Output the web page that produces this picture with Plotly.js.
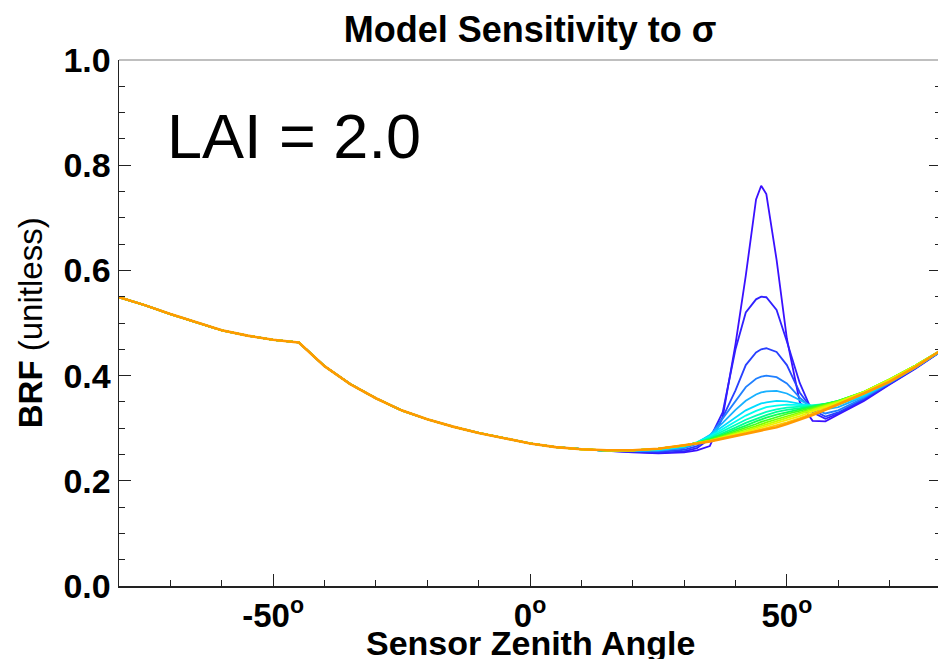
<!DOCTYPE html>
<html>
<head>
<meta charset="utf-8">
<script src="https://cdn.plot.ly/plotly-3.0.1.min.js"></script>
<style>
html,body{margin:0;padding:0;overflow:hidden;background:#fff;}
#chart{width:944px;height:659px;}
</style>
</head>
<body>
<div id="chart"></div>
<script>
// Shared left part (all curves coincide here)
const xLeft = [-80,-75,-70,-65,-60,-55,-50,-46,-45,-44,-40,-35,-30,-25,-20,-15,-10,-5,0,5,10];
const yLeft = [0.549,0.534,0.517,0.501,0.486,0.476,0.468,0.464,0.463,0.454,0.418,0.384,0.357,0.334,0.317,0.303,0.291,0.281,0.271,0.264,0.260];

// Hotspot region, per sigma curve
const xRight = [15,20,25,30,32.5,35,37.5,40,42,44,45,46,48,50,52.5,55,57.5,60,65,70,75,80];
const s01 = [0.257,0.254,0.252,0.254,0.258,0.266,0.321,0.460,0.590,0.735,0.761,0.745,0.620,0.470,0.350,0.314,0.313,0.326,0.352,0.383,0.413,0.446];
const s02 = [0.257,0.255,0.253,0.256,0.262,0.280,0.330,0.450,0.520,0.545,0.550,0.549,0.525,0.465,0.386,0.330,0.318,0.328,0.354,0.384,0.414,0.446];
const s03 = [0.257,0.256,0.255,0.259,0.266,0.283,0.320,0.372,0.420,0.444,0.450,0.452,0.445,0.420,0.368,0.335,0.322,0.330,0.356,0.385,0.415,0.447];
const s04 = [0.257,0.257,0.257,0.262,0.270,0.285,0.318,0.352,0.378,0.394,0.398,0.400,0.397,0.385,0.358,0.337,0.328,0.334,0.358,0.386,0.415,0.447];
const s05 = [0.257,0.257,0.258,0.264,0.272,0.287,0.310,0.335,0.352,0.364,0.368,0.370,0.371,0.366,0.353,0.341,0.336,0.340,0.360,0.387,0.415,0.447];
const s06 = [0.257,0.257,0.259,0.265,0.273,0.286,0.303,0.321,0.334,0.343,0.347,0.349,0.352,0.351,0.346,0.342,0.341,0.345,0.362,0.388,0.416,0.447];
const s07 = [0.257,0.258,0.260,0.266,0.273,0.284,0.298,0.313,0.324,0.333,0.337,0.340,0.343,0.345,0.344,0.343,0.344,0.349,0.365,0.390,0.417,0.447];
const s08 = [0.257,0.258,0.261,0.266,0.272,0.282,0.294,0.306,0.316,0.324,0.328,0.331,0.336,0.339,0.341,0.343,0.346,0.351,0.367,0.391,0.418,0.447];
const s09 = [0.257,0.258,0.261,0.267,0.272,0.280,0.290,0.301,0.310,0.318,0.322,0.325,0.331,0.335,0.338,0.342,0.346,0.352,0.368,0.392,0.418,0.447];
const s10 = [0.258,0.258,0.261,0.267,0.272,0.279,0.288,0.297,0.305,0.313,0.317,0.320,0.326,0.331,0.336,0.341,0.346,0.352,0.369,0.393,0.419,0.448];
const s11 = [0.258,0.258,0.261,0.267,0.272,0.278,0.286,0.294,0.301,0.308,0.312,0.315,0.321,0.327,0.333,0.339,0.345,0.352,0.369,0.393,0.419,0.448];
const s12 = [0.258,0.258,0.261,0.267,0.272,0.277,0.284,0.291,0.298,0.304,0.308,0.311,0.317,0.323,0.330,0.337,0.344,0.351,0.369,0.393,0.419,0.448];
const s13 = [0.258,0.258,0.261,0.267,0.272,0.276,0.283,0.289,0.295,0.301,0.304,0.307,0.313,0.319,0.327,0.335,0.342,0.350,0.369,0.393,0.419,0.448];
const s14 = [0.258,0.258,0.261,0.267,0.271,0.276,0.282,0.287,0.292,0.298,0.301,0.304,0.309,0.315,0.323,0.332,0.340,0.348,0.368,0.392,0.418,0.448];
const s15 = [0.258,0.258,0.261,0.267,0.271,0.275,0.281,0.286,0.290,0.295,0.298,0.300,0.305,0.311,0.319,0.328,0.337,0.346,0.367,0.390,0.417,0.448];
const s16 = [0.258,0.258,0.261,0.267,0.271,0.275,0.280,0.285,0.289,0.293,0.295,0.297,0.302,0.308,0.316,0.325,0.335,0.345,0.366,0.388,0.416,0.448];

const series = [s01,s02,s03,s04,s05,s06,s07,s08,s09,s10,s11,s12,s13,s14,s15,s16];
const colors = ['#3a10ff','#3020ff','#2840ff','#2080ff','#18b0ff','#00dcff','#00fff0','#00ffc0','#00ff90','#10ff58','#40ff20','#80ff00','#c0ff00','#f0f000','#ffc800','#ff9a00'];

const xTickVals = [-50,0,50];
const xTickText = ['-50<sup>o</sup>','0<sup>o</sup>','50<sup>o</sup>'];

const traces = series.map((s,i)=>({
  x: xLeft.concat(xRight),
  y: yLeft.concat(s),
  type: 'scatter',
  mode: 'lines',
  line: {color: colors[i], width: i===series.length-1 ? 2.6 : 1.8},
  showlegend: false,
  hoverinfo: 'skip'
}));

const font = 'Liberation Sans, Arial, Helvetica, sans-serif';

const layout = {
  width: 944, height: 659,
  margin: {l:119, r:3, t:60, b:73},
  paper_bgcolor: '#fff', plot_bgcolor: '#fff',
  title: {text: '<b>Model Sensitivity to σ</b>', font:{family:font, size:36, color:'#000'}, x:0.5, xref:'paper', xanchor:'center', y:0.955, yref:'container', yanchor:'middle'},
  xaxis: {
    range: [-80,80], showgrid:false, zeroline:false,
    showline:true, linecolor:'#222', linewidth:1.5, mirror:false,
    ticks:'inside', ticklen:12, tickwidth:1, tickcolor:'#222',
    tickvals: xTickVals, ticktext: xTickText,
    tickfont:{family:font, size:33, color:'#000', weight:'bold'},
    minor:{dtick:10, ticks:'inside', ticklen:6, tickcolor:'#222', showgrid:false},
    title:{text:''}
  },
  yaxis: {
    range: [0,1], showgrid:false, zeroline:false,
    showline:true, linecolor:'#222', linewidth:1.5, mirror:'ticks',
    ticks:'inside', ticklen:12, tickwidth:1, tickcolor:'#222',
    dtick:0.2, tick0:0, tickformat:'.1f',
    tickfont:{family:font, size:34, color:'#000', weight:'bold'},
    minor:{dtick:0.05, ticks:'inside', ticklen:6, tickcolor:'#222', showgrid:false},
    title:{text:''}
  },
  shapes: [{type:'line', xref:'paper', yref:'paper', x0:0, x1:1, y0:1, y1:1, line:{color:'#aaa', width:1.5}}],
  annotations: [
    {text:'LAI = 2.0', x:-71, y:0.856, xref:'x', yref:'y', xanchor:'left', yanchor:'middle',
     showarrow:false, font:{family:font, size:63, color:'#000'}},
    {text:'<b>Sensor Zenith Angle</b>', x:0.5, y:-0.108, xref:'paper', yref:'paper', xanchor:'center', yanchor:'middle',
     showarrow:false, font:{family:font, size:34, color:'#000'}},
    {text:'<b>BRF</b> (unitless)', x:-0.108, y:0.5, xref:'paper', yref:'paper', xanchor:'center', yanchor:'middle',
     textangle:-90, showarrow:false, font:{family:font, size:33, color:'#000'}}
  ]
};

Plotly.newPlot('chart', traces, layout, {displayModeBar:false, staticPlot:true});
</script>
</body>
</html>
